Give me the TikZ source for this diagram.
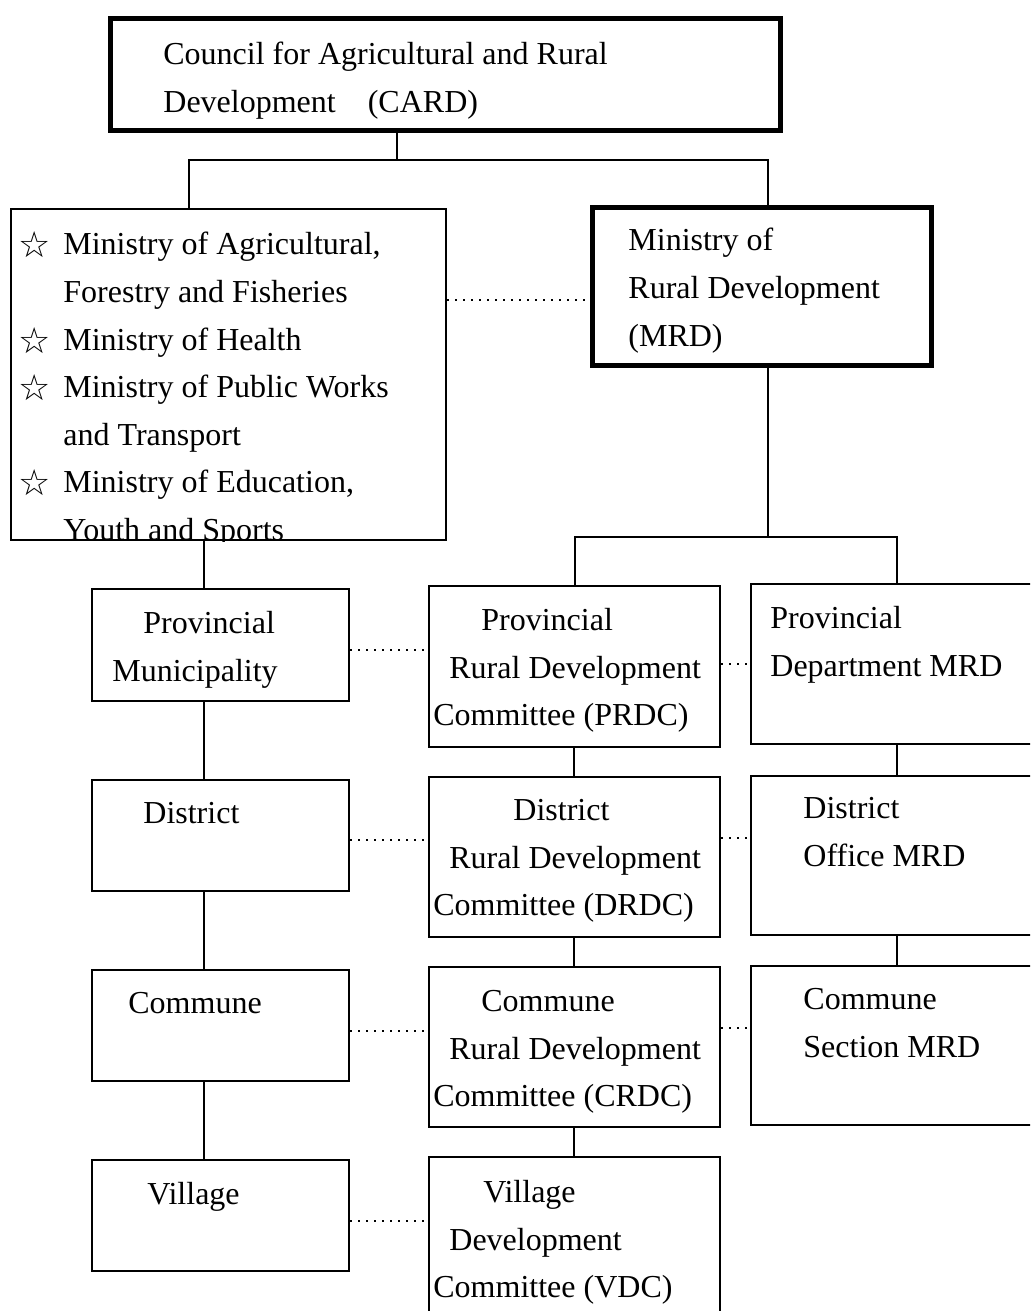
\documentclass[tikz,border=0pt]{standalone}
\usepackage{fontspec}
\setmainfont{Liberation Serif}
\newfontfamily\symfont{DejaVu Sans}
\usetikzlibrary{positioning}

\newcommand{\ministar}{\makebox[22.5pt][l]{\smash{\raisebox{-1.5pt}{\symfont\fontsize{18}{18}\selectfont ☆}}}}
\newcommand{\nostar}{\hspace*{22.5pt}}

\begin{document}
\begin{tikzpicture}[x=0.5pt,y=-0.5pt,
    box/.style={draw,rectangle,line width=1pt,inner sep=0pt,anchor=north west},
    thick box/.style={box,line width=2.3pt},
    txt/.style={inner sep=0pt,align=left,font=\fontsize{16}{23.8}\selectfont},
    link/.style={line width=1pt},
    dotline/.style={line width=1.1pt,dash pattern=on 1.1pt off 2.9pt}]

  \useasboundingbox (0,0) rectangle (1030,1311);
  \clip (0,0) rectangle (1030,1311);

  % top level
  \node[thick box, minimum width=335pt, minimum height=56pt] (card) at (108,16) {};
  \node[box, minimum width=217.5pt, minimum height=165.5pt] (mins) at (10,208) {};
  \node[thick box, minimum width=169.5pt, minimum height=79pt] (mrd) at (590,205) {};

  % left column
  \node[box, minimum width=128.5pt, minimum height=56pt] (pmun) at (91,588) {};
  \node[box, minimum width=128.5pt, minimum height=55.5pt] (dist) at (91,779) {};
  \node[box, minimum width=128.5pt, minimum height=55.5pt] (comm) at (91,969) {};
  \node[box, minimum width=128.5pt, minimum height=55.5pt] (vill) at (91,1159) {};

  % committees
  \node[box, minimum width=145.5pt, minimum height=80.5pt] (prdc) at (428,585) {};
  \node[box, minimum width=145.5pt, minimum height=80pt] (drdc) at (428,776) {};
  \node[box, minimum width=145.5pt, minimum height=80pt] (crdc) at (428,966) {};
  \node[box, minimum width=145.5pt, minimum height=85pt] (vdc) at (428,1156) {};

  % MRD offices
  \node[box, minimum width=150pt, minimum height=80pt] (pdep) at (750,583) {};
  \node[box, minimum width=150pt, minimum height=79.5pt] (doff) at (750,775) {};
  \node[box, minimum width=150pt, minimum height=79.5pt] (csec) at (750,965) {};

  % texts
  \node[txt, below right=13pt and 27.5pt of card.north west] (cardtxt)
    {Council for Agricultural and Rural\\Development\hspace{1em}(CARD)};
  \begin{scope}
    \clip (mins.north west) rectangle (mins.south east);
    \node[txt, below right=12pt and 4pt of mins.north west] (minstxt)
      {\ministar Ministry of Agricultural,\\\nostar Forestry and Fisheries\\
       \ministar Ministry of Health\\\ministar Ministry of Public Works\\
       \nostar and Transport\\\ministar Ministry of Education,\\
       \nostar Youth and Sports};
  \end{scope}
  \node[txt, below right=11.5pt and 19pt of mrd.north west] (mrdtxt)
    {Ministry of\\Rural Development\\(MRD)};

  \node[txt, below right=11.5pt and 10.5pt of pmun.north west] (pmuntxt)
    {\hspace*{15.5pt}Provincial\\Municipality};
  \node[txt, below right=11.5pt and 26pt of dist.north west] (disttxt) {District};
  \node[txt, below right=11.5pt and 18.5pt of comm.north west] (commtxt) {Commune};
  \node[txt, below right=11.5pt and 28pt of vill.north west] (villtxt) {Village};

  \node[txt, below right=11.5pt and 2.5pt of prdc.north west] (prdctxt)
    {\hspace*{24pt}Provincial\\\hspace*{8pt}Rural Development\\Committee (PRDC)};
  \node[txt, below right=11.5pt and 2.5pt of drdc.north west] (drdctxt)
    {\hspace*{40pt}District\\\hspace*{8pt}Rural Development\\Committee (DRDC)};
  \node[txt, below right=12pt and 2.5pt of crdc.north west] (crdctxt)
    {\hspace*{24pt}Commune\\\hspace*{8pt}Rural Development\\Committee (CRDC)};
  \node[txt, below right=12pt and 2.5pt of vdc.north west] (vdctxt)
    {\hspace*{25pt}Village\\\hspace*{8pt}Development\\Committee (VDC)};

  \node[txt, below right=11.5pt and 10pt of pdep.north west] (pdeptxt)
    {Provincial\\Department MRD};
  \node[txt, below right=11pt and 26.5pt of doff.north west] (dofftxt)
    {District\\Office MRD};
  \node[txt, below right=11.5pt and 26.5pt of csec.north west] (csectxt)
    {Commune\\Section MRD};

  % solid connectors
  \coordinate (jc) at (397,160);
  \coordinate (jl) at (189,160);
  \coordinate (jr) at (768,160);
  \coordinate (jm) at (768,537);
  \coordinate (jb) at (575,537);
  \coordinate (jd) at (897,537);
  \coordinate (cola) at (204,0);
  \coordinate (colb) at (574,0);

  \draw[link] (card.south -| jc) -- (jc);
  \draw[link] (mins.north -| jl) -- (jl) -- (jr) -- (mrd.north -| jr);
  \draw[link] (mrd.south -| jm) -- (jm);
  \draw[link] (prdc.north -| jb) -- (jb) -- (jd) -- (pdep.north -| jd);

  \foreach \a/\b in {mins/pmun,pmun/dist,dist/comm,comm/vill}
    \draw[link] (\a.south -| cola) -- (\b.north -| cola);
  \foreach \a/\b in {prdc/drdc,drdc/crdc,crdc/vdc}
    \draw[link] (\a.south -| colb) -- (\b.north -| colb);
  \foreach \a/\b in {pdep/doff,doff/csec}
    \draw[link] (\a.south -| jd) -- (\b.north -| jd);

  % dotted links
  \foreach \a/\b/\y in {mins/mrd/300,pmun/prdc/650,dist/drdc/840,comm/crdc/1031,
                        vill/vdc/1221,prdc/pdep/664,drdc/doff/838,crdc/csec/1028}
    \draw[dotline] (\a.east |- 0,\y) -- (\b.west |- 0,\y);
\end{tikzpicture}
\end{document}
